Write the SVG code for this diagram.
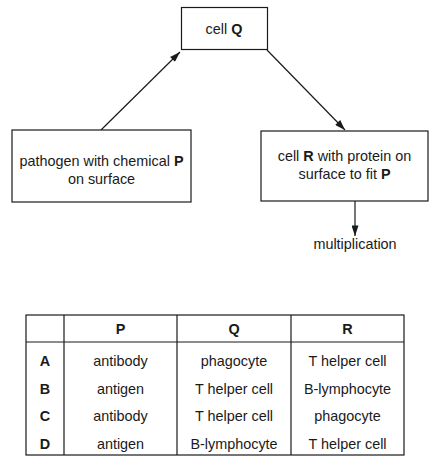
<svg xmlns="http://www.w3.org/2000/svg" width="437" height="465" viewBox="0 0 437 465">
<style>
text{font-family:"Liberation Sans",Arial,sans-serif;font-size:14.4px;fill:#1a1a1a;text-anchor:middle}
.b{font-weight:bold}
.box{fill:#fff;stroke:#1a1a1a;stroke-width:1.2}
.ln{stroke:#1a1a1a;stroke-width:1.2;fill:none}
</style>
<defs>
<marker id="ah" viewBox="0 0 12 8" refX="12" refY="4" markerWidth="11" markerHeight="7" markerUnits="userSpaceOnUse" orient="auto">
<path d="M0,0 L12,4 L0,8 z" fill="#1a1a1a"/>
</marker>
</defs>
<rect width="437" height="465" fill="#fff"/>
<g id="connectors">
<line class="ln" x1="101" y1="130" x2="180" y2="52" marker-end="url(#ah)"/>
<line class="ln" x1="267" y1="50" x2="345" y2="130" marker-end="url(#ah)"/>
<line class="ln" x1="355" y1="201" x2="355" y2="236" marker-end="url(#ah)"/>
</g>
<g id="cellQ">
<rect class="box" x="181.5" y="7.5" width="86" height="42"/>
<text x="224" y="34">cell <tspan class="b">Q</tspan></text>
</g>
<g id="pathogen">
<rect class="box" x="12" y="130" width="179" height="72"/>
<text x="101.5" y="166">pathogen with chemical <tspan class="b">P</tspan></text>
<text x="101.5" y="184">on surface</text>
</g>
<g id="cellR">
<rect class="box" x="261" y="131" width="167" height="70"/>
<text x="344.5" y="161">cell <tspan class="b">R</tspan> with protein on</text>
<text x="344.5" y="179">surface to fit <tspan class="b">P</tspan></text>
</g>
<g id="multiplication">
<text x="355" y="249">multiplication</text>
</g>
<g id="table">
<rect class="ln" x="26" y="315" width="378" height="140"/>
<line class="ln" x1="26" y1="342" x2="404" y2="342"/>
<line class="ln" x1="64" y1="315" x2="64" y2="455"/>
<line class="ln" x1="177" y1="315" x2="177" y2="455"/>
<line class="ln" x1="291" y1="315" x2="291" y2="455"/>
<text class="b" x="120.5" y="334">P</text>
<text class="b" x="234" y="334">Q</text>
<text class="b" x="347.5" y="334">R</text>
<text class="b" x="45" y="366">A</text>
<text x="120.5" y="366">antibody</text>
<text x="234" y="366">phagocyte</text>
<text x="347.5" y="366">T helper cell</text>
<text class="b" x="45" y="393.5">B</text>
<text x="120.5" y="393.5">antigen</text>
<text x="234" y="393.5">T helper cell</text>
<text x="347.5" y="393.5">B-lymphocyte</text>
<text class="b" x="45" y="421">C</text>
<text x="120.5" y="421">antibody</text>
<text x="234" y="421">T helper cell</text>
<text x="347.5" y="421">phagocyte</text>
<text class="b" x="45" y="449">D</text>
<text x="120.5" y="449">antigen</text>
<text x="234" y="449">B-lymphocyte</text>
<text x="347.5" y="449">T helper cell</text>
</g>
</svg>
